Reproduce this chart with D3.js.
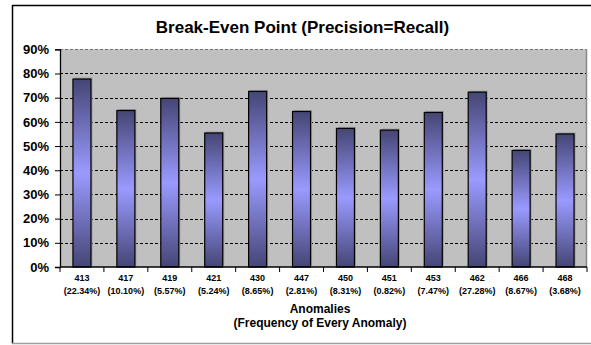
<!DOCTYPE html>
<html>
<head>
<meta charset="utf-8">
<script src="https://cdn.jsdelivr.net/npm/d3@7"></script>
<style>
  html, body { margin: 0; padding: 0; background: #fff; }
  svg { display: block; font-family: Arial, "Liberation Sans", sans-serif; }
</style>
</head>
<body>
<svg id="chart" width="591" height="345"></svg>
<script>
// Anomaly ids, their share of all anomalies, and break-even point per anomaly
const anomalies = ["413", "417", "419", "421", "430", "447", "450", "451", "453", "462", "466", "468"];
const frequencies = ["22.34%", "10.10%", "5.57%", "5.24%", "8.65%", "2.81%", "8.31%", "0.82%", "7.47%", "27.28%", "8.67%", "3.68%"];
const breakEven = [0.777, 0.647, 0.697, 0.554, 0.726, 0.643, 0.573, 0.566, 0.639, 0.723, 0.482, 0.550];
const yTicks = [0, 0.1, 0.2, 0.3, 0.4, 0.5, 0.6, 0.7, 0.8, 0.9];

const svg = d3.select("#chart");
const W = 591, H = 345;
const plot = { left: 60, right: 587, top: 49.3, bottom: 267 };

// outer frame
svg.append("rect").attr("width", W).attr("height", H).attr("fill", "#fff");
svg.append("line").attr("x1", 12.5).attr("x2", 12.5).attr("y1", 5).attr("y2", 343.5)
  .attr("stroke", "#000").attr("stroke-width", 1.5);
svg.append("line").attr("x1", 12).attr("x2", W).attr("y1", 5.5).attr("y2", 5.5)
  .attr("stroke", "#000").attr("stroke-width", 1.5);
svg.append("line").attr("x1", 12).attr("x2", W).attr("y1", 343.5).attr("y2", 343.5)
  .attr("stroke", "#a0a0a0").attr("stroke-width", 1.5);

// bar fill: dark at both ends, light in the middle
const defs = svg.append("defs");
const grad = defs.append("linearGradient").attr("id", "barFill")
  .attr("x1", 0).attr("y1", 0).attr("x2", 0).attr("y2", 1);
grad.append("stop").attr("offset", "0%").attr("stop-color", "#454575");
grad.append("stop").attr("offset", "50%").attr("stop-color", "#9a9aff");
grad.append("stop").attr("offset", "100%").attr("stop-color", "#454575");

const x = d3.scaleBand().domain(anomalies)
  .range([plot.left, plot.right]).paddingInner(0.59).paddingOuter(0.295);
const y = d3.scaleLinear().domain([0, 0.9]).range([plot.bottom, plot.top]);

// plot background
svg.append("rect")
  .attr("x", plot.left).attr("y", plot.top)
  .attr("width", plot.right - plot.left).attr("height", plot.bottom - plot.top)
  .attr("fill", "#c0c0c0");
svg.append("line").attr("x1", plot.right - 0.5).attr("x2", plot.right - 0.5)
  .attr("y1", plot.top).attr("y2", plot.bottom).attr("stroke", "#8a8a8a").attr("stroke-width", 1.5);

// dashed gridlines
svg.append("g").selectAll("line").data(yTicks.filter(d => d > 0)).join("line")
  .attr("x1", plot.left).attr("x2", plot.right - 1)
  .attr("y1", d => Math.round(y(d)) + 0.5).attr("y2", d => Math.round(y(d)) + 0.5)
  .attr("stroke", d => d === 0.9 ? "#707070" : "#000")
  .attr("stroke-width", 1)
  .attr("stroke-dasharray", "3,2");

// bars with a faint shadow
const bars = svg.append("g");
bars.selectAll("rect.shadow").data(breakEven).join("rect").attr("class", "shadow")
  .attr("x", (d, i) => x(anomalies[i]) + 1.5)
  .attr("y", d => y(d) - 1.5)
  .attr("width", x.bandwidth())
  .attr("height", d => y(0) - y(d))
  .attr("fill", "#9a9a9a");
bars.selectAll("rect.bar").data(breakEven).join("rect").attr("class", "bar")
  .attr("x", (d, i) => x(anomalies[i]))
  .attr("y", d => y(d))
  .attr("width", x.bandwidth())
  .attr("height", d => y(0) - y(d))
  .attr("fill", "url(#barFill)")
  .attr("stroke", "#000").attr("stroke-width", 1.2);

// y axis
const yAxis = d3.axisLeft(y).tickValues(yTicks).tickFormat(d3.format(".0%")).tickSize(5).tickPadding(6);
const gy = svg.append("g").attr("transform", `translate(${plot.left},0)`).call(yAxis);
gy.select(".domain").attr("stroke", "#000").attr("stroke-width", 1.3);
gy.selectAll(".tick line").attr("stroke", "#000");
gy.selectAll(".tick text").attr("font-size", 13).attr("font-weight", "bold")
  .attr("font-family", "Arial, 'Liberation Sans', sans-serif").attr("fill", "#000");

// x axis: ticks at band boundaries
svg.append("line").attr("x1", plot.left).attr("x2", plot.right)
  .attr("y1", plot.bottom).attr("y2", plot.bottom).attr("stroke", "#000").attr("stroke-width", 1.3);
const step = x.step();
const boundaries = d3.range(anomalies.length + 1).map(i => plot.left + i * step);
svg.append("g").selectAll("line").data(boundaries).join("line")
  .attr("x1", d => d).attr("x2", d => d)
  .attr("y1", plot.bottom).attr("y2", plot.bottom + 5)
  .attr("stroke", "#000");

const xl = svg.append("g").attr("font-size", 9).attr("font-weight", "bold").attr("text-anchor", "middle");
xl.selectAll("text.id").data(anomalies).join("text").attr("class", "id")
  .attr("x", d => x(d) + x.bandwidth() / 2).attr("y", 281).text(d => d);
xl.selectAll("text.freq").data(frequencies).join("text").attr("class", "freq")
  .attr("x", (d, i) => x(anomalies[i]) + x.bandwidth() / 2).attr("y", 294).text(d => `(${d})`);

// titles
svg.append("text").attr("x", 302.5).attr("y", 33).attr("text-anchor", "middle")
  .attr("font-size", 17).attr("font-weight", "bold").text("Break-Even Point (Precision=Recall)");
svg.append("text").attr("x", 320).attr("y", 313).attr("text-anchor", "middle")
  .attr("font-size", 12).attr("font-weight", "bold").text("Anomalies");
svg.append("text").attr("x", 320).attr("y", 327).attr("text-anchor", "middle")
  .attr("font-size", 12).attr("font-weight", "bold").text("(Frequency of Every Anomaly)");
</script>
</body>
</html>
